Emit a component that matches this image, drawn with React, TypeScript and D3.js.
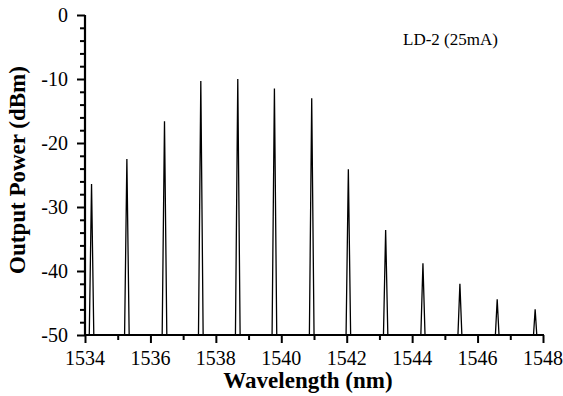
import * as d3 from "d3";
import { useEffect, useRef } from "react";

// peak centres (nm) and peak powers (dBm)
const peakWavelengths = [
  1534.2, 1535.28, 1536.43, 1537.54, 1538.67, 1539.79, 1540.93, 1542.05,
  1543.19, 1544.33, 1545.46, 1546.6, 1547.76,
];
const peakPowers = [
  -26.4, -22.5, -16.6, -10.3, -10.0, -11.5, -13.0, -24.1, -33.6, -38.8, -42.0,
  -44.4, -46.0,
];
const xTicks = [1534, 1536, 1538, 1540, 1542, 1544, 1546, 1548];
const yTicks = [0, -10, -20, -30, -40, -50];
const noiseFloor = -52;
const halfWidth = 0.075;

const App = () => {
  const ref = useRef<SVGSVGElement | null>(null);

  useEffect(() => {
    document.body.style.margin = "0";
    const width = 563;
    const height = 396;
    const margin = { top: 15, right: 20, bottom: 61, left: 85 };
    const font = "Liberation Serif, Times New Roman, serif";

    const svg = d3.select(ref.current);
    svg.selectAll("*").remove();

    const x = d3
      .scaleLinear()
      .domain([1534, 1548])
      .range([margin.left, width - margin.right]);
    const y = d3
      .scaleLinear()
      .domain([-50, 0])
      .range([height - margin.bottom, margin.top]);

    svg
      .append("defs")
      .append("clipPath")
      .attr("id", "plot")
      .append("rect")
      .attr("x", margin.left)
      .attr("y", margin.top)
      .attr("width", width - margin.left - margin.right)
      .attr("height", height - margin.top - margin.bottom);

    const spectrum: [number, number][] = [[1533.5, noiseFloor]];
    peakWavelengths.forEach((c, i) => {
      spectrum.push([c - halfWidth, noiseFloor]);
      spectrum.push([c, peakPowers[i]]);
      spectrum.push([c + halfWidth, noiseFloor]);
    });
    spectrum.push([1548.5, noiseFloor]);

    svg
      .append("path")
      .datum(spectrum)
      .attr("clip-path", "url(#plot)")
      .attr("fill", "none")
      .attr("stroke", "#000")
      .attr("stroke-width", 1.3)
      .attr(
        "d",
        d3
          .line<[number, number]>()
          .x((d) => x(d[0]))
          .y((d) => y(d[1]))
      );

    // x axis
    const gx = svg
      .append("g")
      .attr("transform", `translate(0, ${height - margin.bottom})`);
    gx.call(
      d3.axisBottom(x).tickValues(d3.range(1534, 1549, 1)).tickSize(5).tickFormat(() => "")
    );
    gx.selectAll(".tick line")
      .filter((d) => (d as number) % 2 === 0)
      .attr("y2", 8);
    gx.selectAll(".tick line").attr("stroke-width", 2);
    gx.select(".domain")
      .attr("d", `M${margin.left - 1},0H${width - margin.right + 1}`)
      .attr("stroke-width", 2.2);
    gx.selectAll(".xlab")
      .data(xTicks)
      .enter()
      .append("text")
      .attr("x", (d) => x(d))
      .attr("y", 30)
      .attr("text-anchor", "middle")
      .style("font-family", font)
      .style("font-size", "20px")
      .attr("fill", "#000")
      .text((d) => d);

    // y axis
    const gy = svg.append("g").attr("transform", `translate(${margin.left}, 0)`);
    gy.call(d3.axisLeft(y).tickValues(d3.range(-50, 1, 2)).tickSize(5).tickFormat(() => ""));
    gy.selectAll(".tick line")
      .filter((d) => (d as number) % 10 === 0)
      .attr("x2", -8);
    gy.selectAll(".tick line").attr("stroke-width", 2);
    gy.select(".domain")
      .attr("d", `M0,${margin.top}V${height - margin.bottom + 1}`)
      .attr("stroke-width", 2.2);
    gy.selectAll(".ylab")
      .data(yTicks)
      .enter()
      .append("text")
      .attr("x", -17)
      .attr("y", (d) => y(d))
      .attr("dy", "0.35em")
      .attr("text-anchor", "end")
      .style("font-family", font)
      .style("font-size", "20px")
      .attr("fill", "#000")
      .text((d) => d);

    // titles
    svg
      .append("text")
      .attr("x", 308)
      .attr("y", 388)
      .attr("text-anchor", "middle")
      .style("font-family", font)
      .style("font-weight", "bold")
      .style("font-size", "23px")
      .attr("fill", "#000")
      .text("Wavelength (nm)");

    svg
      .append("text")
      .attr("transform", `translate(25, 170) rotate(-90)`)
      .attr("text-anchor", "middle")
      .style("font-family", font)
      .style("font-weight", "bold")
      .style("font-size", "23px")
      .attr("fill", "#000")
      .text("Output Power (dBm)");

    svg
      .append("text")
      .attr("x", 403)
      .attr("y", 45)
      .style("font-family", font)
      .style("font-size", "17px")
      .attr("fill", "#000")
      .text("LD-2 (25mA)");
  }, []);

  return <svg ref={ref} width={563} height={396} style={{ display: "block" }} />;
};

export default App;
